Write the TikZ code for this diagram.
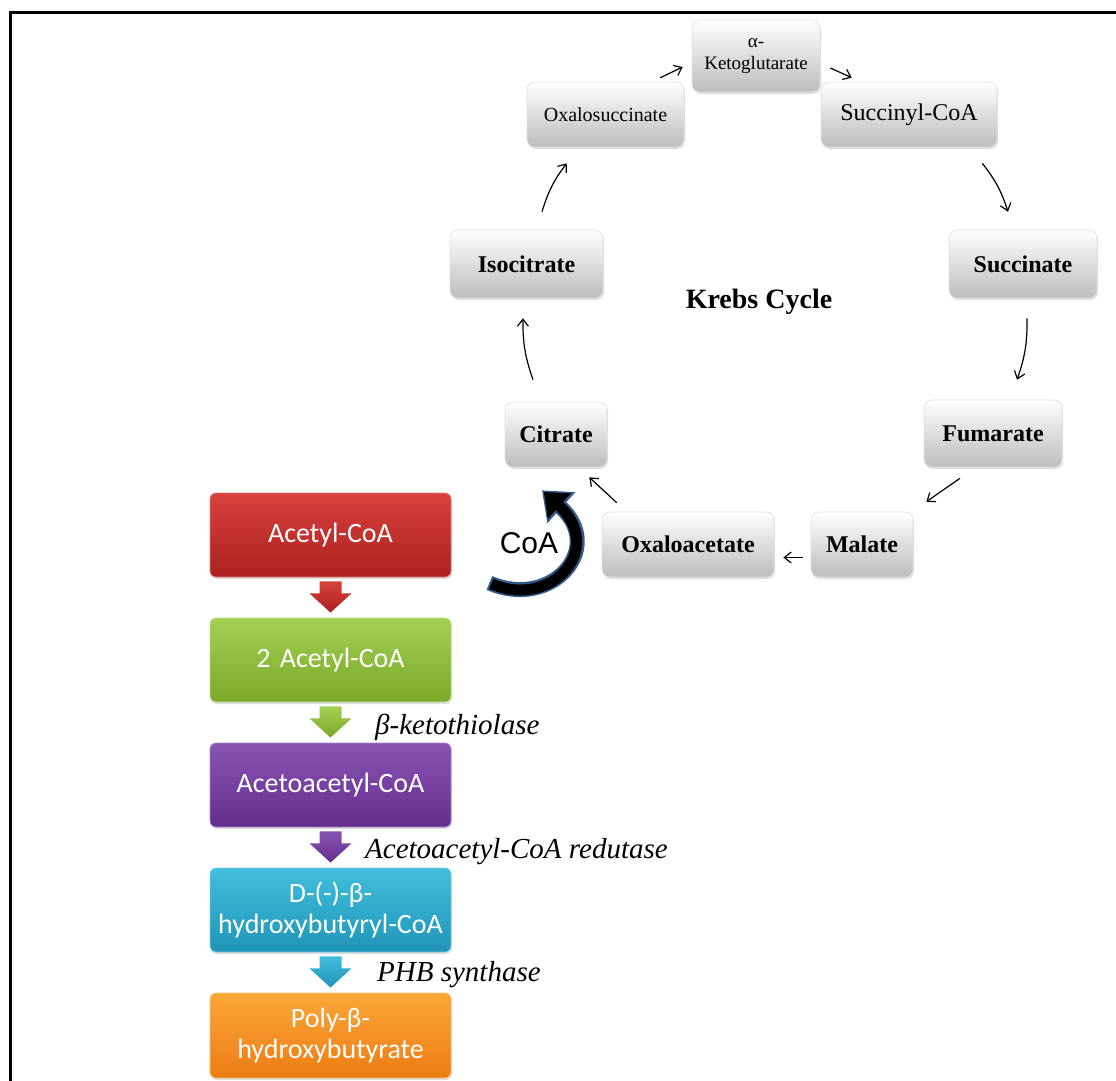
\documentclass[tikz,border=0pt]{standalone}
\usepackage{fontspec}
\setmainfont{Liberation Serif}
\newfontfamily\calib{Carlito}
\newfontfamily\arialf{Liberation Sans}
\usetikzlibrary{arrows.meta,shadows,calc}
\definecolor{redT}{RGB}{216,66,60}
\definecolor{redB}{RGB}{172,32,32}
\definecolor{grnT}{RGB}{164,208,84}
\definecolor{grnB}{RGB}{122,168,40}
\definecolor{purT}{RGB}{136,84,178}
\definecolor{purB}{RGB}{100,46,142}
\definecolor{cyaT}{RGB}{66,190,220}
\definecolor{cyaB}{RGB}{32,148,184}
\definecolor{orgT}{RGB}{252,166,56}
\definecolor{orgB}{RGB}{236,124,20}
\definecolor{coablue}{RGB}{50,92,140}
\newcommand\dnarr[4]{%
  \path[top color=#3, bottom color=#4] let \p1=(#1.south), \p2=(#2.north) in
    (\x1-11pt,\y1-4pt) -- (\x1+11pt,\y1-4pt) -- (\x1+11pt,\y1-16pt) --
    (\x1+21pt,\y1-16pt) -- (\x1,\y2+5pt) -- (\x1-21pt,\y1-16pt) --
    (\x1-11pt,\y1-16pt) -- cycle;}
\begin{document}
\begin{tikzpicture}[x=1pt,y=-1pt,
  graybox/.style={rounded corners=8pt, top color=white, bottom color=black!26,
    draw=black!12, line width=0.6pt, inner sep=2pt, align=center,
    drop shadow={shadow xshift=1pt, shadow yshift=-2pt, opacity=0.25}},
  bigtxt/.style={font=\bfseries\fontsize{24}{28}\selectfont},
  regtxt/.style={font=\fontsize{24}{28}\selectfont},
  smalltxt/.style={font=\fontsize{19}{22}\selectfont},
  colbox/.style 2 args={rounded corners=6pt, minimum width=241pt, minimum height=84pt,
    text width=235pt, align=center, text=white, top color=#1, bottom color=#2,
    draw=#1!70!white, line width=0.8pt, inner sep=0pt,
    font=\calib\fontsize{28}{31}\selectfont,
    drop shadow={shadow xshift=1pt, shadow yshift=-2pt, opacity=0.25}},
  enz/.style={anchor=west, inner sep=0pt, font=\itshape\fontsize{29}{32}\selectfont},
  cyc/.style={line width=1.2pt, -{Straight Barb[length=7pt,width=11pt]}, bend left=10}
]
\useasboundingbox (0,0) rectangle (1116,1081);
\fill[white] (0,0) rectangle (1116,1081);
\draw[line width=3pt] (1116,13) -- (10,13) -- (10,1081);

% Krebs cycle nodes
\node[graybox, smalltxt, minimum width=128pt, minimum height=72pt] (akg) at (756,56) {α-\\Ketoglutarate};
\node[graybox, smalltxt, font=\fontsize{20}{24}\selectfont, minimum width=157pt, minimum height=65pt] (oxs) at (605.5,114.5) {Oxalosuccinate};
\node[graybox, regtxt, minimum width=176pt, minimum height=65pt] (sco) at (909,114.5) {Succinyl-CoA};
\node[graybox, bigtxt, minimum width=153pt, minimum height=68pt] (iso) at (526.5,264) {Isocitrate};
\node[graybox, bigtxt, minimum width=148pt, minimum height=68pt] (suc) at (1023,264) {Succinate};
\node[graybox, bigtxt, minimum width=138pt, minimum height=67pt] (fum) at (993,433.5) {Fumarate};
\node[graybox, bigtxt, minimum width=102pt, minimum height=65pt] (cit) at (556,434.5) {Citrate};
\node[graybox, bigtxt, minimum width=172pt, minimum height=65pt] (oaa) at (688,544.5) {Oxaloacetate};
\node[graybox, bigtxt, minimum width=102pt, minimum height=65pt] (mal) at (862,544.5) {Malate};
\node[font=\bfseries\fontsize{28}{30}\selectfont] (krebs) at (759,302) {Krebs Cycle};

% cycle arrows
\draw[cyc, bend left=0] ([shift={(-24,-4)}]oxs.north east) to ([shift={(-9,11)}]akg.west);
\draw[cyc, bend left=0] ([shift={(10,12)}]akg.east) to ([shift={(31,-4)}]sco.north west);
\draw[cyc] ([shift={(-15,16)}]sco.south east) to ([shift={(-15,-18)}]suc.north);
\draw[cyc] ([shift={(4,20)}]suc.south) to ([shift={(24,-20)}]fum.north);
\draw[cyc, bend left=0] ([shift={(-33,11)}]fum.south) to ([shift={(13,-10)}]mal.north east);
\draw[cyc, bend left=0] ([shift={(-8,13)}]mal.west) to ([shift={(9,13)}]oaa.east);
\draw[cyc, bend left=0] ([shift={(15,-9)}]oaa.north west) to ([shift={(-18,10)}]cit.south east);
\draw[cyc] ([shift={(-23,-22)}]cit.north) to ([shift={(-3.5,20)}]iso.south);
\draw[cyc] ([shift={(15.5,-18)}]iso.north) to ([shift={(40,16)}]oxs.south west);

% PHB pathway
\node[colbox={redT}{redB}] (acoa) at (330.5,535) {Acetyl-CoA};
\node[colbox={grnT}{grnB}] (acoa2) at (330.5,660) {2 Acetyl-CoA};
\node[colbox={purT}{purB}] (aaco) at (330.5,785) {Acetoacetyl-CoA};
\node[colbox={cyaT}{cyaB}] (hbco) at (330.5,910) {D-(-)-β-\\hydroxybutyryl-CoA};
\node[colbox={orgT}{orgB}, minimum height=85pt] (phb) at (330.5,1035.5) {Poly-β-\\hydroxybutyrate};

\dnarr{acoa}{acoa2}{redT}{redB}
\dnarr{acoa2}{aaco}{grnT}{grnB}
\dnarr{aaco}{hbco}{purT}{purB}
\dnarr{hbco}{phb}{cyaT}{cyaB}

\node[enz] (e1) at (375,727) {β-ketothiolase};
\node[enz] (e2) at (365,852) {Acetoacetyl-CoA redutase};
\node[enz] (e3) at (377,975) {PHB synthase};

% CoA curved arrow
\draw[line width=15pt, coablue, -{Triangle[length=26pt,width=40pt]}]
  ([shift={(38,48)}]acoa.east) .. controls (552,610) and (606,548) .. ([shift={(-14,23)}]cit.south);
\draw[line width=11pt, black, shorten <=2pt, shorten >=2.5pt, -{Triangle[length=21pt,width=33pt]}]
  ([shift={(38,48)}]acoa.east) .. controls (552,610) and (606,548) .. ([shift={(-14,23)}]cit.south);
\node[font=\arialf\fontsize{30}{34}\selectfont] (coa) at (529,543) {CoA};
\end{tikzpicture}
\end{document}
